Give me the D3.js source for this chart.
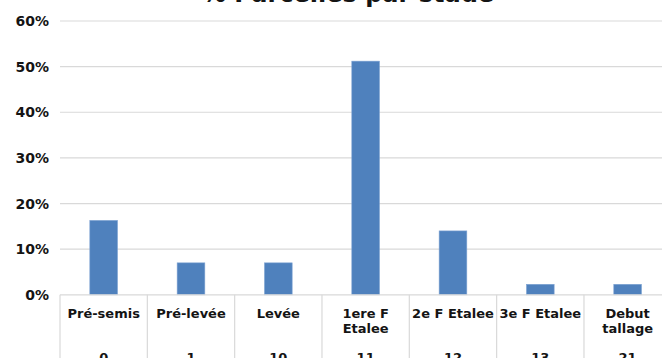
<!DOCTYPE html>
<html>
<head>
<meta charset="utf-8">
<script src="https://cdn.jsdelivr.net/npm/d3@7"></script>
<style>
  html, body { margin: 0; padding: 0; background: #fff; }
  svg { display: block; }
  text { font-family: "DejaVu Sans", Verdana, sans-serif; font-weight: bold; fill: #141414; }
</style>
</head>
<body>
<svg id="chart" width="662" height="358"></svg>
<script>
// Share of plots (parcelles) at each growth stage
const stages = ["Pré-semis", "Pré-levée", "Levée", "1ere F Etalee", "2e F Etalee", "3e F Etalee", "Debut tallage"];
const stageLines = [["Pré-semis"], ["Pré-levée"], ["Levée"], ["1ere F", "Etalee"], ["2e F Etalee"], ["3e F Etalee"], ["Debut", "tallage"]];
const stageCodes = ["0", "1", "10", "11", "12", "13", "21"];
const shares = [0.163, 0.070, 0.070, 0.512, 0.140, 0.023, 0.023];
const yTicks = [0, 0.1, 0.2, 0.3, 0.4, 0.5, 0.6];
const title = "% Parcelles par stade";

const svg = d3.select("#chart");
const plotLeft = 60, plotRight = 671.3, plotTop = 21, plotBottom = 294.8;

const x = d3.scaleBand().domain(stages).range([plotLeft, plotRight]).padding(0);
const y = d3.scaleLinear().domain([0, 0.6]).range([plotBottom, plotTop]);
const barW = x.bandwidth() * 0.317;

// Title (mostly above the visible area)
svg.append("text")
  .attr("x", 348).attr("y", 1.8)
  .attr("text-anchor", "middle")
  .style("font-size", "24px")
  .text(title);

// Horizontal gridlines
svg.append("g").selectAll("line")
  .data(yTicks.filter(d => d > 0))
  .join("line")
  .attr("x1", plotLeft).attr("x2", 662)
  .attr("y1", d => y(d)).attr("y2", d => y(d))
  .attr("stroke", "#d9d9d9").attr("stroke-width", 1.2);

// Y axis labels
const yAxis = d3.axisLeft(y).tickValues(yTicks).tickFormat(d3.format(".0%")).tickSize(0).tickPadding(11);
const gy = svg.append("g").attr("transform", `translate(${plotLeft},0)`).call(yAxis);
gy.select(".domain").remove();
gy.selectAll("text")
  .style("font-size", "14px")
  .style("font-family", "'DejaVu Sans', Verdana, sans-serif")
  .style("font-weight", "bold")
  .attr("fill", "#141414");

// Bars
svg.append("g").selectAll("rect")
  .data(stages.map((s, i) => ({ s, v: shares[i] })))
  .join("rect")
  .attr("x", d => x(d.s) + (x.bandwidth() - barW) / 2)
  .attr("width", barW)
  .attr("y", d => y(d.v))
  .attr("height", d => y(0) - y(d.v))
  .attr("fill", "#4f81bd")
  .attr("stroke", "#7ea3d3").attr("stroke-width", 0.6);

// Category axis: baseline and band separators
const axisG = svg.append("g");
axisG.append("line")
  .attr("x1", plotLeft).attr("x2", 662)
  .attr("y1", plotBottom).attr("y2", plotBottom)
  .attr("stroke", "#d9d9d9").attr("stroke-width", 1.2);
axisG.selectAll("line.sep")
  .data(stages)
  .join("line").attr("class", "sep")
  .attr("x1", d => x(d)).attr("x2", d => x(d))
  .attr("y1", plotBottom).attr("y2", 358)
  .attr("stroke", "#d9d9d9").attr("stroke-width", 1.2);

// Stage names (first level)
const names = axisG.selectAll("text.name")
  .data(stages.map((s, i) => ({ s, lines: stageLines[i] })))
  .join("text").attr("class", "name")
  .attr("text-anchor", "middle")
  .style("font-size", "13px");
names.selectAll("tspan")
  .data(d => d.lines.map(l => ({ l, s: d.s })))
  .join("tspan")
  .attr("x", d => x(d.s) + x.bandwidth() / 2)
  .attr("y", (d, i) => 317.5 + i * 15)
  .text(d => d.l);

// Stage codes (second level)
axisG.selectAll("text.code")
  .data(stages.map((s, i) => ({ s, c: stageCodes[i] })))
  .join("text").attr("class", "code")
  .attr("x", d => x(d.s) + x.bandwidth() / 2)
  .attr("y", 362)
  .attr("text-anchor", "middle")
  .style("font-size", "13px")
  .text(d => d.c);
</script>
</body>
</html>
